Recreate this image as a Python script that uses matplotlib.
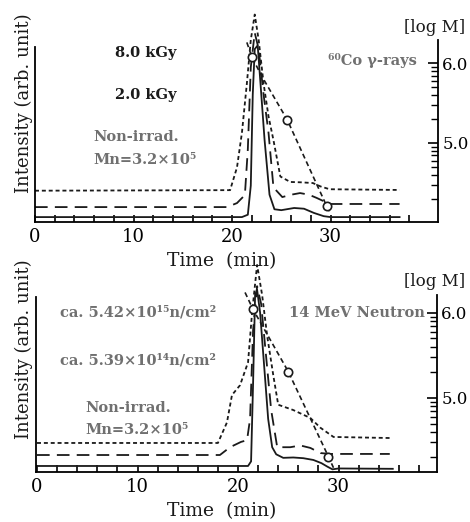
import matplotlib
matplotlib.use("Agg")
import matplotlib.pyplot as plt
import numpy as np

plt.rcParams["font.family"] = ["DejaVu Serif"]

# ---- 60Co gamma-rays panel ----
top_nonirr_t = [0, 21.0, 21.6, 21.9, 22.1, 22.3, 22.6, 22.9, 23.3, 23.8, 24.3, 25.0, 26.3, 27.3, 28.3, 29.3, 30.0, 37.0]
top_nonirr_i = [2.7, 2.7, 4, 20, 70, 95, 97, 75, 45, 15, 7, 6.5, 7.7, 7.3, 5, 3.2, 2.7, 2.7]

top_2kgy_t = [0, 19.5, 20.5, 21.3, 21.6, 21.9, 22.3, 22.7, 23.2, 23.7, 24.2, 25.1, 26.0, 26.9, 27.8, 28.6, 29.9, 37.0]
top_2kgy_i = [8.2, 8.2, 10.4, 14.8, 40, 85, 104, 95, 70, 49, 19, 13.7, 15, 15.9, 15, 13.2, 9.9, 9.9]

top_8kgy_t = [0, 19.8, 20.5, 21.0, 21.5, 21.9, 22.3, 22.7, 23.2, 23.7, 24.2, 24.9, 25.9, 27.0, 28.2, 29.0, 29.9, 37.0]
top_8kgy_i = [17.2, 17.5, 30, 49, 76, 100, 114, 100, 76, 58, 45, 25, 22, 21.8, 21.4, 19.5, 18, 17.6]

top_cal_t = [21.5, 22.0, 23.0, 25.6, 29.6, 30.0]
top_cal_logm = [6.26, 6.08, 5.84, 5.29, 4.21, 4.12]
top_mark_t = [22.0, 25.6, 29.6]
top_mark_logm = [6.08, 5.29, 4.21]

# ---- 14 MeV neutron panel ----
bot_nonirr_t = [0, 21.0, 21.3, 21.5, 21.7, 21.9, 22.2, 22.6, 23.0, 23.4, 23.8, 24.5, 25.5, 26.5, 27.5, 28.3, 28.9, 29.4, 30.0, 35.4]
bot_nonirr_i = [3.4, 3.4, 6, 50, 100, 103, 90, 60, 30, 14, 10, 8, 8.2, 7.8, 6.8, 5, 3, 1.5, 2, 1.8]

bot_e14_t = [0, 18.2, 19.2, 20.3, 20.9, 21.2, 21.5, 21.9, 22.3, 22.8, 23.3, 23.9, 25.2, 26.2, 27.2, 28.2, 29.2, 35.1]
bot_e14_i = [9.6, 9.6, 14, 17, 18, 30, 80, 105, 95, 65, 35, 14, 14, 15, 13.6, 10.7, 10.2, 10.2]

bot_e15_t = [0, 18.0, 18.9, 19.4, 20.2, 21.0, 21.4, 21.9, 22.4, 22.9, 23.5, 24.0, 25.5, 27.2, 28.2, 29.5, 35.1]
bot_e15_i = [16.4, 16.4, 28, 43.5, 49, 62, 90, 117, 100, 77, 55, 38, 35, 30.5, 25, 19.8, 19.2]

bot_cal_t = [20.7, 21.5, 25.0, 29.0, 29.5]
bot_cal_logm = [6.24, 6.04, 5.31, 4.31, 4.18]
bot_mark_t = [21.5, 25.0, 29.0]
bot_mark_logm = [6.04, 5.31, 4.31]

W, H = 470, 522
fig = plt.figure(figsize=(W / 100, H / 100), dpi=100)

gray = "#707070"
black = "#1a1a1a"
dot_style = (0, (2.2, 1.6))
dash_style = (0, (7, 4))
cal_style = (0, (3, 2))


def px(x, y):
    return x / W, 1 - y / H


def make_panel(rect, xmax, xmin, logm_lim, spine_top):
    ax = fig.add_axes(rect)
    ax.set_xlim(xmin, xmax)
    ax.set_ylim(0, 100)
    ax.spines["top"].set_visible(False)
    ax.spines["right"].set_visible(False)
    ax.spines["left"].set_bounds(0, spine_top)
    for s in ax.spines.values():
        s.set_linewidth(1.3)
    ax.set_yticks([])
    ax.set_xticks([0, 10, 20, 30])
    ax.set_xticks(np.arange(0, 40, 2), minor=True)
    ax.tick_params(axis="x", which="both", direction="in", length=5, width=1.2,
                   labelsize=13, pad=4)

    ax2 = ax.twinx()
    ax2.set_ylim(*logm_lim)
    ax2.spines["top"].set_visible(False)
    ax2.spines["left"].set_visible(False)
    ax2.spines["bottom"].set_visible(False)
    ax2.spines["right"].set_linewidth(1.3)
    ax2.set_yticks([5.0, 6.0])
    ax2.set_yticklabels(["5.0", "6.0"])
    minors = [np.log10(k) + n for n in (4, 5, 6) for k in range(2, 10)]
    minors = [m for m in minors if logm_lim[0] <= m <= logm_lim[1]]
    ax2.set_yticks(minors, minor=True)
    ax2.tick_params(axis="y", which="major", direction="in", length=7, width=1.2,
                    labelsize=12, pad=3)
    ax2.tick_params(axis="y", which="minor", direction="in", length=5, width=1.0)
    return ax, ax2


def draw(ax, ax2, t_s, i_s, t_d, i_d, t_o, i_o, cal_t, cal_m, mk_t, mk_m):
    ax.plot(t_s, i_s, color=black, lw=1.3, clip_on=False)
    ax.plot(t_d, i_d, color=black, lw=1.3, linestyle=dash_style, clip_on=False)
    ax.plot(t_o, i_o, color=black, lw=1.3, linestyle=dot_style, clip_on=False)
    ax2.plot(cal_t, cal_m, color=black, lw=1.2, linestyle=cal_style, clip_on=False)
    ax2.plot(mk_t, mk_m, linestyle="none", marker="o", markersize=6,
             markerfacecolor="white", markeredgecolor=black, markeredgewidth=1.2,
             clip_on=False)


# top panel
ax_t, ax_t2 = make_panel([35 / W, 1 - 222 / H, 403 / W, 182 / H], 40.9, 0,
                         (4.01, 6.29), (222 - 47) / 1.82)
draw(ax_t, ax_t2, top_nonirr_t, top_nonirr_i, top_2kgy_t, top_2kgy_i,
     top_8kgy_t, top_8kgy_i, top_cal_t, top_cal_logm, top_mark_t, top_mark_logm)

# bottom panel
ax_b, ax_b2 = make_panel([36 / W, 1 - 472 / H, 401 / W, 177 / H], 39.8, -0.1,
                         (4.13, 6.21), (472 - 297) / 1.77)
draw(ax_b, ax_b2, bot_nonirr_t, bot_nonirr_i, bot_e14_t, bot_e14_i,
     bot_e15_t, bot_e15_i, bot_cal_t, bot_cal_logm, bot_mark_t, bot_mark_logm)

# axis labels
for yc in (103, 349):
    fig.text(*px(24, yc), "Intensity (arb. unit)", rotation=90, ha="center",
             va="center", fontsize=13, color=black)
for yc in (261, 511):
    fig.text(*px(222, yc), "Time  (min)", ha="center", va="center", fontsize=13.5,
             color=black)
for yc in (28, 281):
    fig.text(*px(465, yc), "[log M]", ha="right", va="center", fontsize=12, color=black)

# annotations, top
fs = 10.5
fig.text(*px(115, 53), "8.0 kGy", fontsize=fs, fontweight="bold", color=black, va="center")
fig.text(*px(115, 95), "2.0 kGy", fontsize=fs, fontweight="bold", color=black, va="center")
fig.text(*px(93, 137), "Non-irrad.", fontsize=fs, fontweight="bold", color=gray, va="center")
fig.text(*px(93, 160), "Mn=3.2\u00d710\u2075", fontsize=fs, fontweight="bold", color=gray, va="center")
fig.text(*px(417, 60), "\u2076\u2070Co \u03b3-rays", fontsize=fs, fontweight="bold", color=gray,
         va="center", ha="right")

# annotations, bottom
fig.text(*px(60, 312), "ca. 5.42\u00d710\u00b9\u2075n/cm\u00b2", fontsize=fs, fontweight="bold",
         color=gray, va="center")
fig.text(*px(60, 361), "ca. 5.39\u00d710\u00b9\u2074n/cm\u00b2", fontsize=fs, fontweight="bold",
         color=gray, va="center")
fig.text(*px(85, 408), "Non-irrad.", fontsize=fs, fontweight="bold", color=gray, va="center")
fig.text(*px(85, 430), "Mn=3.2\u00d710\u2075", fontsize=fs, fontweight="bold", color=gray, va="center")
fig.text(*px(425, 313), "14 MeV Neutron", fontsize=fs, fontweight="bold", color=gray,
         va="center", ha="right")

fig.savefig("out.png", dpi=100)
